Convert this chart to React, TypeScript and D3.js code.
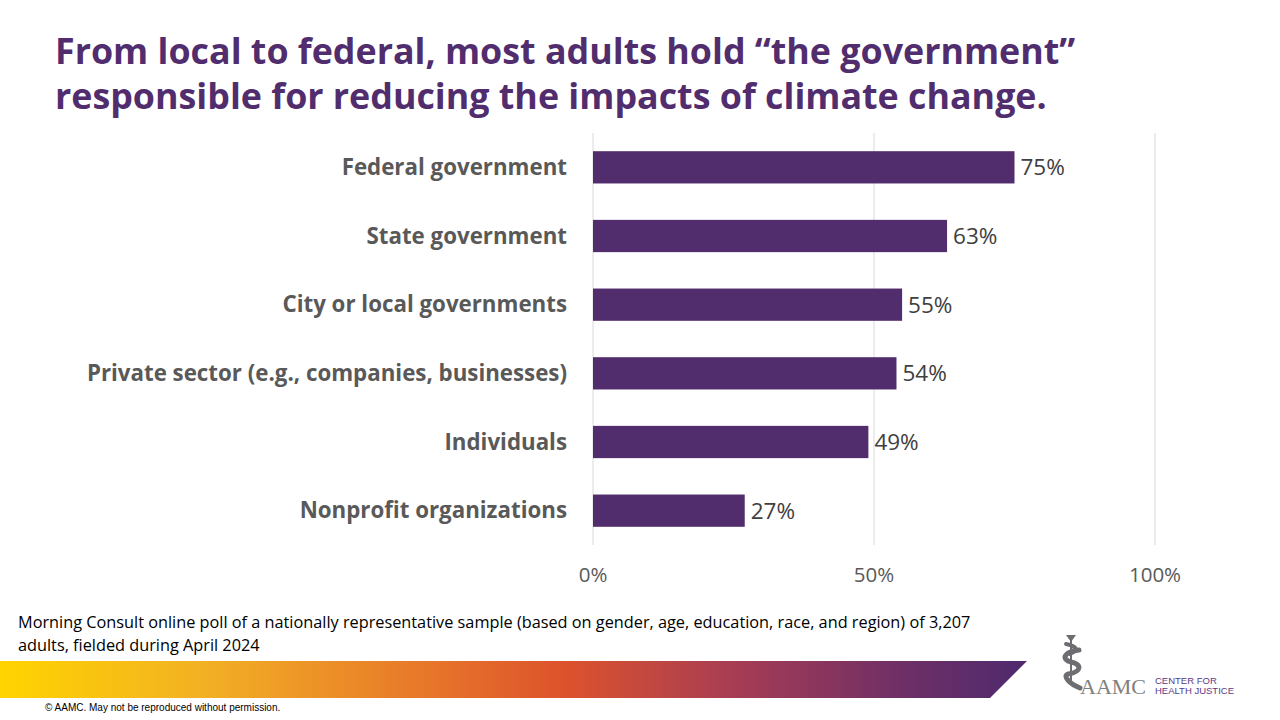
import React from "react";
import * as d3 from "d3";

const categories = [
  "Federal government",
  "State government",
  "City or local governments",
  "Private sector (e.g., companies, businesses)",
  "Individuals",
  "Nonprofit organizations",
];
const values = [75, 63, 55, 54, 49, 27];
const ticks = [0, 50, 100];
const titleLines = [
  "From local to federal, most adults hold \u201cthe government\u201d",
  "responsible for reducing the impacts of climate change.",
];
const noteLines = [
  "Morning Consult online poll of a nationally representative sample (based on gender, age, education, race, and region) of 3,207",
  "adults, fielded during April 2024",
];

const PURPLE = "#522D6E";
const FONT = "'Open Sans', 'Noto Sans', sans-serif";

export default function App() {
  const W = 1280, H = 720;
  const x = d3.scaleLinear().domain([0, 100]).range([593, 1155]);
  const y = d3.scaleBand<string>().domain(categories).range([133, 545]).paddingInner(0.53).paddingOuter(0.265);

  return (
    <svg width={W} height={H} style={{ position: "absolute", left: 0, top: 0, background: "#fff" }}>
      <defs>
        <linearGradient id="band" x1="0" x2="1" y1="0" y2="0">
          <stop offset="0" stopColor="#FFD400" />
          <stop offset="0.2" stopColor="#F2B024" />
          <stop offset="0.42" stopColor="#E7752A" />
          <stop offset="0.55" stopColor="#DD522C" />
          <stop offset="0.72" stopColor="#A53C55" />
          <stop offset="0.88" stopColor="#6E2F66" />
          <stop offset="1" stopColor="#4E2A6E" />
        </linearGradient>
      </defs>
      <rect width={W} height={H} fill="#fff" />
      {titleLines.map((t, i) => (
        <text key={i} x={55} y={64 + i * 45} fontFamily={FONT} fontWeight={700} fontSize={35.8} fill={PURPLE}>
          {t}
        </text>
      ))}
      {ticks.map((t) => (
        <g key={t}>
          <line x1={x(t)} x2={x(t)} y1={133} y2={545} stroke="#D9D9D9" strokeWidth={1} />
          <text x={x(t)} y={582} textAnchor="middle" fontFamily={FONT} fontSize={20.5} fill="#595959">
            {t}%
          </text>
        </g>
      ))}
      {categories.map((c, i) => {
        const yy = y(c)!;
        const bw = y.bandwidth();
        return (
          <g key={c}>
            <rect x={x(0)} y={yy} width={x(values[i]) - x(0)} height={bw} fill={PURPLE} />
            <text x={567} y={yy + bw / 2} dy="0.35em" textAnchor="end" fontFamily={FONT} fontWeight={700} fontSize={22.3} fill="#595959">
              {c}
            </text>
            <text x={x(values[i]) + 6} y={yy + bw / 2} dy="0.36em" fontFamily={FONT} fontSize={22.5} fill="#404040">
              {values[i]}%
            </text>
          </g>
        );
      })}
      {noteLines.map((t, i) => (
        <text key={i} x={18} y={628 + i * 23} fontFamily={FONT} fontSize={16.3} fill="#000">
          {t}
        </text>
      ))}
      <path d="M0,661 L1027,661 L990,698 L0,698 Z" fill="url(#band)" />
      <text x={45} y={711} fontFamily="'Liberation Sans', Arial, sans-serif" fontSize={10} fill="#000">
        © AAMC. May not be reproduced without permission.
      </text>
      <g>
        <path d="M1066,635 L1076,635 L1071,642 Z" fill="#6d6e71" />
        <line x1={1071} y1={640} x2={1071} y2={685} stroke="#6d6e71" strokeWidth={2} />
        <path d="M1079,650 C1062,652 1062,660 1071,662 C1082,664 1082,672 1068,674 C1062,676 1070,684 1080,688"
          fill="none" stroke="#6d6e71" strokeWidth={5} strokeLinecap="round" />
        <path d="M1066,644 C1076,646 1080,650 1070,654" fill="none" stroke="#6d6e71" strokeWidth={4} strokeLinecap="round" />
        <text x={1080} y={694} fontFamily="'Liberation Serif', serif" fontSize={22} fill="#808080">AAMC</text>
        <text x={1155} y={684} fontFamily="'Liberation Sans', Arial, sans-serif" fontSize={9.5} fill="#5a3a86">CENTER FOR</text>
        <text x={1155} y={694} fontFamily="'Liberation Sans', Arial, sans-serif" fontSize={9.5} fill="#5a3a86">HEALTH JUSTICE</text>
      </g>
    </svg>
  );
}
